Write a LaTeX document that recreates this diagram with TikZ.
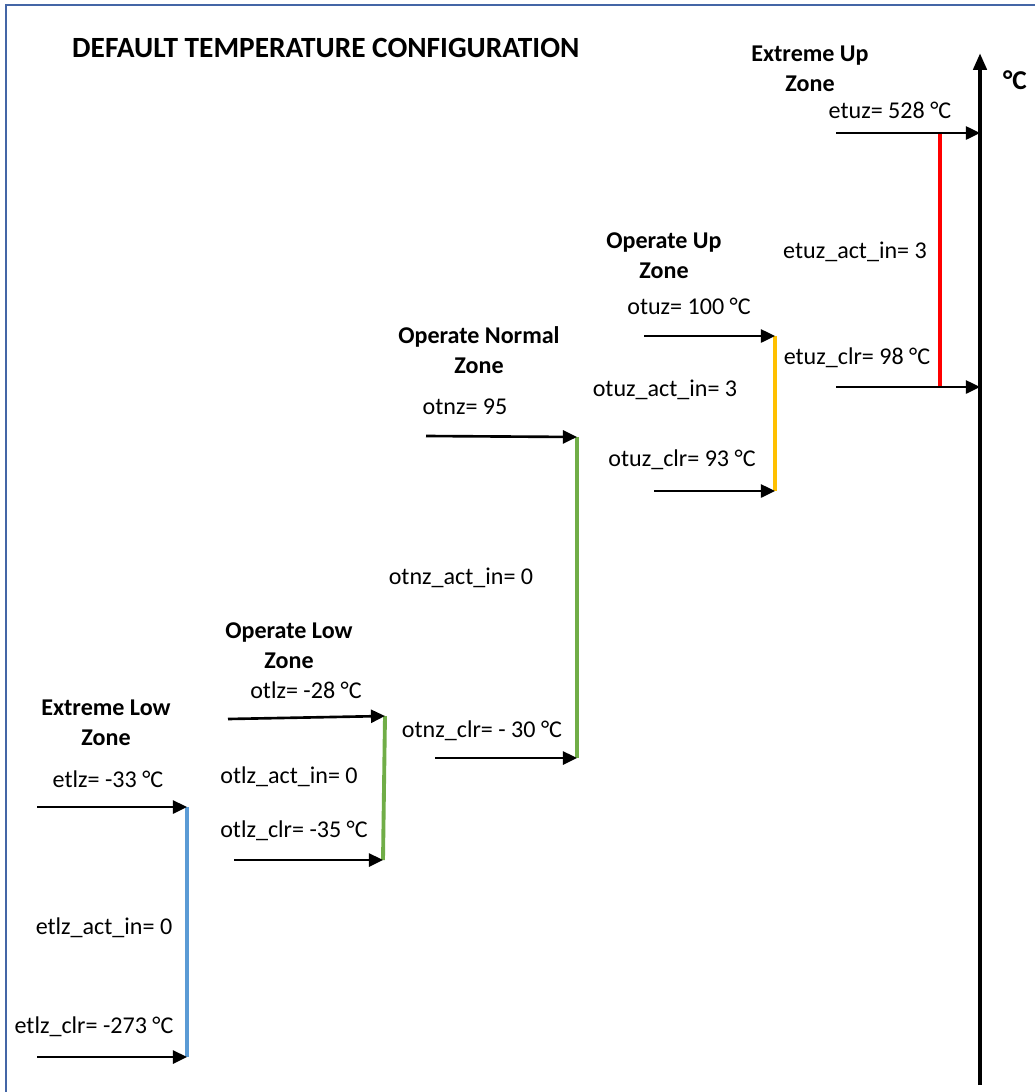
\documentclass[tikz,border=0pt]{standalone}
\usepackage{fontspec}
\setmainfont{Carlito}
\usepackage{tikz}
\usetikzlibrary{positioning, arrows.meta}
\usepackage{xcolor}

\definecolor{framecol}{RGB}{68,102,166}
\definecolor{elzcol}{RGB}{91,155,213}
\definecolor{olzcol}{RGB}{112,173,71}
\definecolor{onzcol}{RGB}{112,173,71}
\definecolor{ouzcol}{RGB}{255,192,0}
\definecolor{euzcol}{RGB}{255,0,0}

\tikzset{
    lbl/.style={font=\fontsize{13.7}{16}\selectfont, inner sep=1pt},
    zonehead/.style={font=\fontsize{13.7}{17}\selectfont\bfseries, align=center, inner sep=1pt},
    setarrow/.style={-{Triangle[length=8pt, width=7.4pt]}, line width=1.5pt},
    band/.style={line width=2.2pt}
}

\begin{document}
\begin{tikzpicture}[x=0.02cm, y=-0.02cm]
    \useasboundingbox (0,0) rectangle (1035,1092);
    % Frame (top and left edge only)
    \draw[framecol, line width=1.7pt] (1035,5) -- (6,5) -- (6,1092);

    % Title
    \node[font=\fontsize{16.7}{19}\selectfont\bfseries, anchor=west] (title) at (66,48)
        {DEFAULT TEMPERATURE CONFIGURATION};

    % Temperature axis
    \coordinate (axbot) at (980,1085);
    \coordinate (axtop) at (980,53);
    \draw[-{Triangle[length=9.6pt, width=7.4pt]}, line width=2.6pt] (axbot) -- (axtop);
    \node[font=\fontsize{15.5}{17}\selectfont\bfseries] (unit) at (1015,80) {°C};

    % Extreme Low Zone
    \node[zonehead] (elzhead) at (106,723) {Extreme Low\\Zone};
    \node[lbl] (etlz) at (108,779) {etlz= -33 °C};
    \node[lbl] (etlzact) at (104,928) {etlz\_act\_in= 0};
    \node[lbl] (etlzclr) at (94,1027) {etlz\_clr= -273 °C};
    \coordinate (etlzA) at (37,807);   \coordinate (etlzB) at (187,807);
    \coordinate (etlzcA) at (37,1057); \coordinate (etlzcB) at (187,1057);
    \draw[band, elzcol] (etlzB) -- (etlzcB);
    \draw[setarrow] (etlzA) -- (etlzB);
    \draw[setarrow] (etlzcA) -- (etlzcB);

    % Operate Low Zone
    \node[zonehead] (olzhead) at (289,646) {Operate Low\\Zone};
    \node[lbl] (otlz) at (306,690) {otlz= -28 °C};
    \node[lbl] (otlzact) at (289,777) {otlz\_act\_in= 0};
    \node[lbl] (otlzclr) at (294,831) {otlz\_clr= -35 °C};
    \coordinate (otlzA) at (228,719);  \coordinate (otlzB) at (385,716);
    \coordinate (otlzcA) at (234,860); \coordinate (otlzcB) at (383,860);
    \draw[band, olzcol] (otlzB) -- (otlzcB);
    \draw[setarrow] (otlzA) -- (otlzB);
    \draw[setarrow] (otlzcA) -- (otlzcB);

    % Operate Normal Zone
    \node[zonehead] (onzhead) at (479,350) {Operate Normal\\Zone};
    \node[lbl] (otnz) at (465,407) {otnz= 95};
    \node[lbl] (otnzact) at (461,578) {otnz\_act\_in= 0};
    \node[lbl] (otnzclr) at (482,731) {otnz\_clr= - 30 °C};
    \coordinate (otnzA) at (426,436);  \coordinate (otnzB) at (577,437);
    \coordinate (otnzcA) at (435,758); \coordinate (otnzcB) at (577,758);
    \draw[band, onzcol] (otnzB) -- (otnzcB);
    \draw[setarrow] (otnzA) -- (otnzB);
    \draw[setarrow] (otnzcA) -- (otnzcB);

    % Operate Up Zone
    \node[zonehead] (ouzhead) at (664,256) {Operate Up\\Zone};
    \node[lbl] (otuz) at (689,306) {otuz= 100 °C};
    \node[lbl] (otuzact) at (665,390) {otuz\_act\_in= 3};
    \node[lbl] (otuzclr) at (682,460) {otuz\_clr= 93 °C};
    \coordinate (otuzA) at (644,336);  \coordinate (otuzB) at (775,336);
    \coordinate (otuzcA) at (654,491); \coordinate (otuzcB) at (775,491);
    \draw[band, ouzcol] (otuzB) -- (otuzcB);
    \draw[setarrow] (otuzA) -- (otuzB);
    \draw[setarrow] (otuzcA) -- (otuzcB);

    % Extreme Up Zone
    \node[zonehead] (euzhead) at (810,69) {Extreme Up\\Zone};
    \node[lbl] (etuz) at (890,110) {etuz= 528 °C};
    \node[lbl] (etuzact) at (855,252) {etuz\_act\_in= 3};
    \node[lbl] (etuzclr) at (857,358) {etuz\_clr= 98 °C};
    \coordinate (etuzA) at (836,133);  \coordinate (etuzB) at (980,133);
    \coordinate (etuzcA) at (836,387); \coordinate (etuzcB) at (980,387);
    \coordinate (etuzbT) at (940,133); \coordinate (etuzbB) at (940,387);
    \draw[band, euzcol] (etuzbT) -- (etuzbB);
    \draw[setarrow] (etuzA) -- (etuzB);
    \draw[setarrow] (etuzcA) -- (etuzcB);
\end{tikzpicture}
\end{document}
